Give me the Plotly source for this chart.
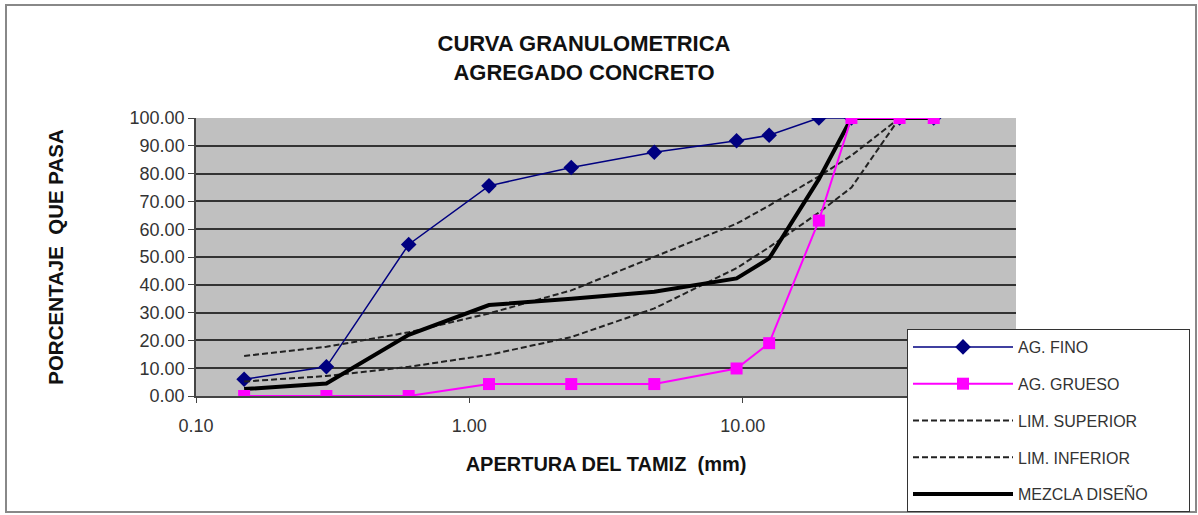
import plotly.graph_objects as go

# Sieve openings (mm)
sieves = [0.15, 0.30, 0.60, 1.18, 2.36, 4.75, 9.50, 12.50, 19.00, 25.00, 37.50, 50.00]
sieves_lim = [0.15, 0.30, 0.60, 1.18, 2.36, 4.75, 9.50, 12.50, 19.00, 25.00, 37.50]

ag_fino = [6.0, 10.5, 54.5, 75.6, 82.2, 87.7, 91.8, 93.8, 100.0, 100.0, 100.0, 100.0]
ag_grueso = [0.0, 0.0, 0.0, 4.3, 4.3, 4.3, 9.9, 19.0, 63.1, 100.0, 100.0, 100.0]
lim_superior = [14.4, 17.7, 22.9, 29.7, 38.0, 50.0, 62.0, 68.5, 79.0, 86.5, 100.0]
lim_inferior = [5.2, 7.2, 10.5, 14.8, 21.2, 31.5, 46.0, 53.5, 66.0, 75.0, 100.0]
mezcla = [2.5, 4.5, 22.0, 32.7, 35.0, 37.5, 42.3, 49.5, 78.0, 100.0, 100.0, 100.0]

x_tickvals = [0.1, 1, 10]
x_ticktext = ["0.10", "1.00", "10.00"]
y_tickvals = [0, 10, 20, 30, 40, 50, 60, 70, 80, 90, 100]
y_ticktext = ["%.2f" % v for v in y_tickvals]

FONT = "Liberation Sans, Arial, sans-serif"
TXT = "#333333"
PAD = "\u00a0" * 8

fig = go.Figure()
fig.add_trace(go.Scatter(x=sieves, y=ag_fino, name="AG. FINO", mode="lines+markers",
                         line=dict(color="#000080", width=1.5),
                         marker=dict(symbol="diamond", size=12, color="#000080"),
                         legendrank=1, legendgroup="a"))
fig.add_trace(go.Scatter(x=sieves_lim, y=lim_superior, name="LIM. SUPERIOR", mode="lines",
                         line=dict(color="#222222", width=2, dash="6px,3px"),
                         legendrank=3, legendgroup="c"))
fig.add_trace(go.Scatter(x=sieves_lim, y=lim_inferior, name="LIM. INFERIOR", mode="lines",
                         line=dict(color="#222222", width=2, dash="6px,3px"),
                         legendrank=4, legendgroup="d"))
fig.add_trace(go.Scatter(x=sieves, y=mezcla, name="MEZCLA DISEÑO" + PAD, mode="lines",
                         line=dict(color="#000000", width=4),
                         legendrank=5, legendgroup="e"))
fig.add_trace(go.Scatter(x=sieves, y=ag_grueso, name="AG. GRUESO", mode="lines+markers",
                         line=dict(color="#FF00FF", width=2),
                         marker=dict(symbol="square", size=12, color="#FF00FF"),
                         legendrank=2, legendgroup="b"))

L, R, T, B = 196, 182, 118, 119
W, H = 1198, 515
pw = W - L - R
ph = H - T - B

def px(xp):
    return (xp - L) / pw

def py(yp):
    return (H - B - yp) / ph

fig.update_layout(
    width=W, height=H,
    margin=dict(l=L, r=R, t=T, b=B, autoexpand=False),
    paper_bgcolor="white",
    plot_bgcolor="#C0C0C0",
    font=dict(family=FONT, color=TXT, size=18),
    title=dict(text="<b>CURVA GRANULOMETRICA<br>AGREGADO CONCRETO</b>",
               x=584 / W, xanchor="center", y=1 - 51 / H, yanchor="middle",
               yref="container",
               font=dict(family=FONT, size=22, color="#111111")),
    xaxis=dict(type="log", range=[-1, 2], tickvals=x_tickvals, ticktext=x_ticktext,
               showgrid=False, zeroline=False, showline=True, linecolor="#444444", linewidth=1.5,
               ticks="outside", ticklen=5, tickcolor="#444444", ticklabelstandoff=8,
               tickfont=dict(size=18, color=TXT),
               title=dict(text="<b>APERTURA DEL TAMIZ  (mm)</b>", standoff=22,
                          font=dict(size=20, color="#111111"))),
    yaxis=dict(range=[0, 100], tickvals=y_tickvals, ticktext=y_ticktext,
               showgrid=True, gridcolor="#333333", gridwidth=1.5,
               zeroline=False, showline=True, linecolor="#444444", linewidth=1.5,
               ticks="outside", ticklen=6, tickcolor="#444444",
               tickfont=dict(size=18, color=TXT),
               title=dict(text="<b>PORCENTAJE  QUE PASA</b>", standoff=60,
                          font=dict(size=20.5, color="#111111"))),
    legend=dict(x=px(907), y=py(329), xanchor="left", yanchor="top",
                bgcolor="white", bordercolor="#333333", borderwidth=1,
                font=dict(size=16, color=TXT), itemwidth=100,
                tracegroupgap=13, traceorder="grouped"),
    showlegend=True,
)

fig.add_shape(type="rect", xref="paper", yref="paper",
              x0=px(6), x1=px(1196), y0=py(512), y1=py(5),
              line=dict(color="#888888", width=2), fillcolor="rgba(0,0,0,0)", layer="above")

fig.write_html("out.html", config={"displayModeBar": False},
               post_script="document.body.style.margin='0px';")
